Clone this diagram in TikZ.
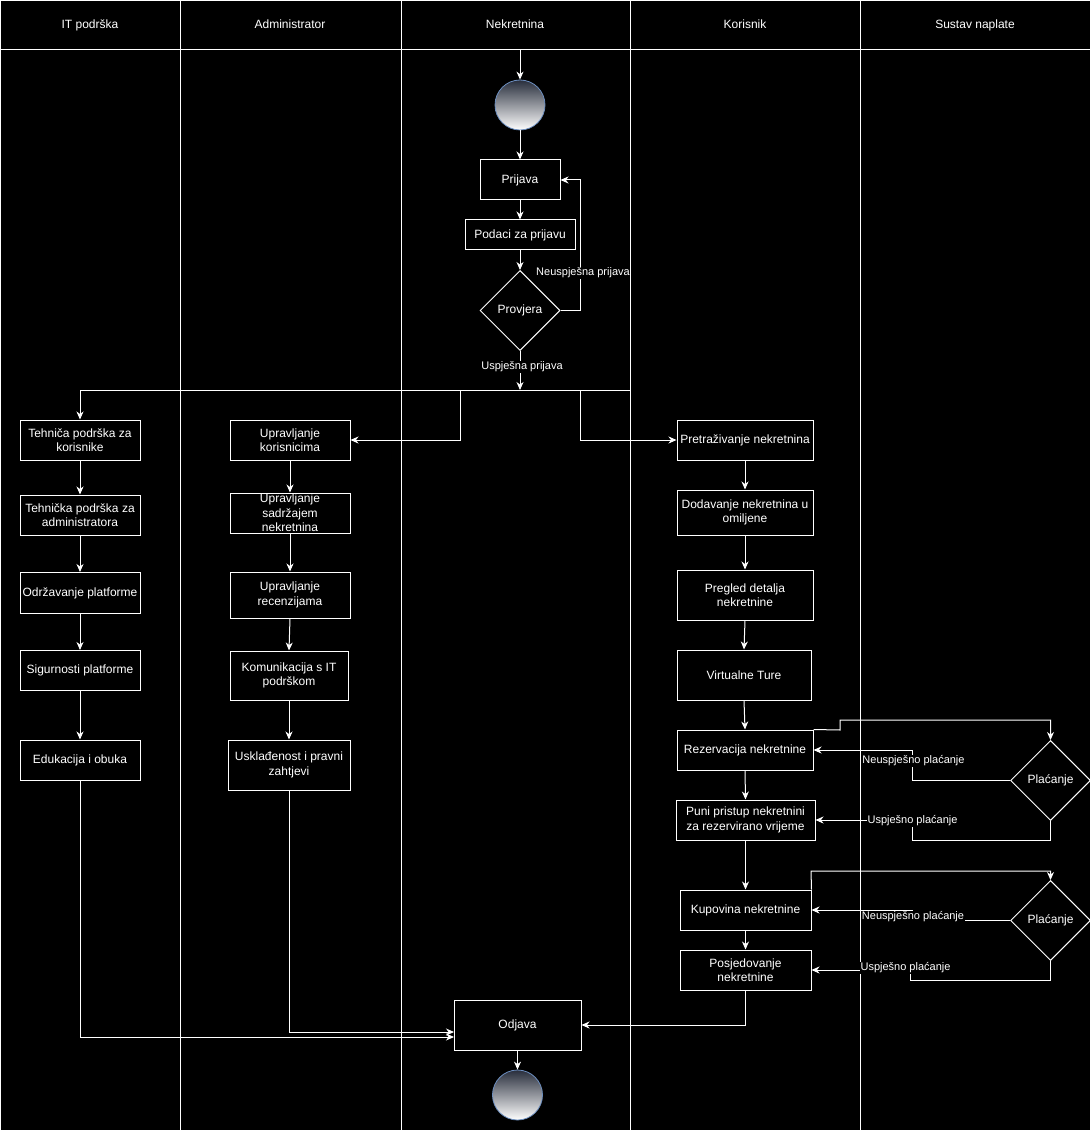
\documentclass[tikz,border=0pt]{standalone}
\usepackage{fontspec}
\setmainfont{Liberation Sans}
\usetikzlibrary{shapes.geometric,arrows.meta}
\begin{document}
\begin{tikzpicture}[x=1pt,y=-1pt,
  every node/.style={text=white},
  lane/.style={draw=white,line width=1pt},
  box/.style={rectangle,draw=white,line width=1pt,align=center,inner sep=0pt,
    font=\fontsize{12}{14.5}\selectfont},
  dec/.style={diamond,aspect=1,draw=white,line width=1pt,inner sep=0pt,
    minimum width=80pt,minimum height=80pt,font=\fontsize{12}{14.5}\selectfont},
  endpt/.style={circle,minimum size=50pt,inner sep=0pt,draw={rgb,255:red,108;green,142;blue,191},
    line width=0.8pt,top color={rgb,255:red,40;green,46;blue,60},bottom color=white},
  hdr/.style={font=\fontsize{12}{14}\selectfont,text height=8.6pt,text depth=2.4pt,inner sep=0pt},
  lbl/.style={fill=black,inner sep=0.5pt,font=\fontsize{11}{13}\selectfont},
  line/.style={draw=white,line width=1pt},
  arr/.style={line,-{Stealth[length=8pt,width=7pt,inset=2.5pt]}}
]
\fill[black] (0,0) rectangle (1091,1131);
\useasboundingbox (0,0) rectangle (1091,1131);
% swimlanes
\draw[lane] (0.5,0.5) rectangle (1090,1130);
\draw[lane] (0.5,50) -- (1090,50);
\foreach \xx in {180,401,630,860} \draw[lane] (\xx,0.5) -- (\xx,1130);
\node[hdr] (h1) at (90,25) {IT podrška};
\node[hdr] (h2) at (290,25) {Administrator};
\node[hdr] (h3) at (515,25) {Nekretnina};
\node[hdr] (h4) at (745,25) {Korisnik};
\node[hdr] (h5) at (975,25) {Sustav naplate};

% Nekretnina lane
\coordinate (top) at (520,50);
\node[endpt] (start) at (520,105) {};
\node[box,minimum width=80pt,minimum height=40pt] (pri) at (520,180) {Prijava};
\node[box,minimum width=110pt,minimum height=30pt] (pod) at (520,235) {Podaci za prijavu};
\node[dec] (prov) at (520,310.5) {Provjera};
\coordinate (fork) at (520,390);
\coordinate (fR) at (630,390);
\coordinate (fA) at (460,390);
\coordinate (fK) at (580,390);

% IT podrska
\node[box,minimum width=120pt,minimum height=40pt] (t1) at (80,440) {Tehniča podrška za\\korisnike};
\node[box,minimum width=120pt,minimum height=40pt] (t2) at (80,515) {Tehnička podrška za\\administratora};
\node[box,minimum width=120pt,minimum height=41pt] (t3) at (80,593) {Održavanje platforme};
\node[box,minimum width=120pt,minimum height=40pt] (t4) at (80,670.5) {Sigurnosti platforme};
\node[box,minimum width=120pt,minimum height=40pt] (t5) at (80,760) {Edukacija i obuka};

% Administrator
\node[box,minimum width=120pt,minimum height=40pt] (a1) at (290,440) {Upravljanje\\korisnicima};
\node[box,minimum width=120pt,minimum height=40pt] (a2) at (290,513) {Upravljanje\\sadržajem\\nekretnina};
\node[box,minimum width=120pt,minimum height=46pt] (a3) at (290,595) {Upravljanje\\recenzijama};
\node[box,minimum width=118pt,minimum height=49pt] (a4) at (289,675.5) {Komunikacija s IT\\podrškom};
\node[box,minimum width=122pt,minimum height=50pt] (a5) at (289,765) {Usklađenost i pravni\\zahtjevi};

% Korisnik
\node[box,minimum width=136pt,minimum height=40pt] (k1) at (745,440) {Pretraživanje nekretnina};
\node[box,minimum width=136pt,minimum height=45pt] (k2) at (745,512.5) {Dodavanje nekretnina u\\omiljene};
\node[box,minimum width=136pt,minimum height=50pt] (k3) at (745,595) {Pregled detalja\\nekretnine};
\node[box,minimum width=134pt,minimum height=50pt] (k4) at (744,675) {Virtualne Ture};
\node[box,minimum width=136pt,minimum height=40pt] (k5) at (745,750) {Rezervacija nekretnine};
\node[box,minimum width=139pt,minimum height=40pt] (k6) at (745.5,820) {Puni pristup nekretnini\\za rezervirano vrijeme};
\node[box,minimum width=131pt,minimum height=40pt] (k7) at (745.5,910) {Kupovina nekretnine};
\node[box,minimum width=131pt,minimum height=40pt] (k8) at (745.5,970) {Posjedovanje\\nekretnine};

% Sustav naplate
\node[dec] (p1) at (1050.5,780.5) {Plaćanje};
\node[dec] (p2) at (1050.5,920.5) {Plaćanje};

% end
\node[box,minimum width=127pt,minimum height=50pt] (odj) at (517.5,1025) {Odjava};
\node[endpt] (end) at (517.5,1095) {};
\coordinate (j1) at (454,1037);
\coordinate (j2) at (454,1032);

% connectors, Nekretnina
\draw[arr] (top) -- (start.north);
\draw[arr] (start.south) -- (pri.north);
\draw[arr] (pri.south) -- (pod.north);
\draw[arr] (pod.south) -- (prov.north);
\draw[arr] (prov.east) -- (580,310.5) |- (pri.east);
\node[lbl] (lneu) at (583,273) {Neuspješna prijava};
\draw[arr] (prov.south) -- (fork);
\node[lbl] (lusp) at (522,367) {Uspješna prijava};
\draw[arr] (fR) -| (t1.north);
\draw[arr] (fA) |- (a1.east);
\draw[arr] (fK) |- (k1.west);

% IT podrska chain
\draw[arr] (t1) -- (t2);
\draw[arr] (t2) -- (t3);
\draw[arr] (t3) -- (t4);
\draw[arr] (t4) -- (t5);
\draw[arr] (t5.south) |- (j1);

% Administrator chain
\draw[arr] (a1) -- (a2);
\draw[arr] (a2) -- (a3);
\draw[arr] (a3.south) -- (a4.north);
\draw[arr] (a4) -- (a5);
\draw[arr] (a5.south) |- (j2);

% Korisnik chain
\draw[arr] (k1) -- (k2);
\draw[arr] (k2) -- (k3);
\draw[arr] (k3.south) -- (k4.north);
\draw[arr] (k4.south) -- (k5.north);
\draw[arr] (k5.south) -- (k6.north);
\draw[arr] (k6.south) -- (k7.north);
\draw[arr] (k7) -- (k8);
\draw[arr] (k8.south) |- (odj.east);
\draw[arr] (odj) -- (end);

% payment 1
\draw[arr] (k5.north east) -- (840,730) -- (840,720) -| (p1.north);
\draw[arr] (p1.west) -- (912.5,780.5) -- (912.5,750) -- (k5.east);
\node[lbl] (ln1) at (913.5,761) {Neuspješno plaćanje};
\draw[arr] (p1.south) -- (1050.5,840) -- (912.5,840) -- (912.5,820) -- (k6.east);
\node[lbl] (lu1) at (912.5,821) {Uspješno plaćanje};

% payment 2
\draw[arr] (k7.north east) -- (811,871) -| (p2.north);
\draw[arr] (p2.west) -- (912.5,920.5) -- (912.5,910) -- (k7.east);
\node[lbl] (ln2) at (913,917) {Neuspješno plaćanje};
\draw[arr] (p2.south) -- (1050.5,980) -- (910,980) -- (910,970) -- (k8.east);
\node[lbl] (lu2) at (905.5,968) {Uspješno plaćanje};
\end{tikzpicture}
\end{document}
